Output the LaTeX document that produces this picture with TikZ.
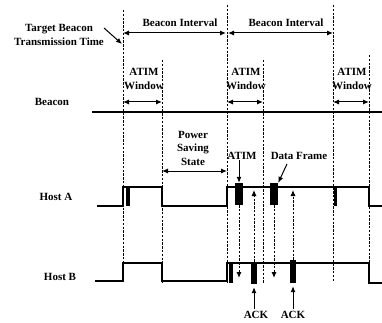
\documentclass[tikz,border=0pt]{standalone}
\usepackage{fontspec}
\setmainfont{Liberation Serif}
\usepackage{tikz}
\usetikzlibrary{arrows.meta}

\begin{document}
\begin{tikzpicture}[
    x=1pt, y=-1pt,
    lbl/.style={font=\bfseries\fontsize{11}{13.5}\selectfont, inner sep=0pt, align=center},
    tline/.style={line width=0.9pt, dash pattern=on 2.4pt off 1.4pt},
    sig/.style={line width=1.1pt},
    frm/.style={fill=black, draw=none, inner sep=0pt},
    arr/.style={-{Latex[length=6pt,width=5pt]}, line width=1pt},
    darr/.style={{Latex[length=6pt,width=5pt]}-{Latex[length=6pt,width=5pt]}, line width=1pt},
    dasharr/.style={arr, dash pattern=on 2.4pt off 1.4pt}
  ]
    \useasboundingbox (0,0) rectangle (382,323);

    % beacon and ATIM window boundaries
    \draw[tline] (123,10) -- (123,283);
    \draw[tline] (162,60) -- (162,283);
    \draw[tline] (227,5) -- (227,283);
    \draw[tline] (263,60) -- (263,283);
    \draw[tline] (333,5) -- (333,281);
    \draw[tline] (369,55) -- (369,281);

    \node[lbl] (tbtt) at (59,35) {Target Beacon\\Transmission Time};
    \coordinate (tbttfrom) at (104,28);
    \coordinate (tbttto) at (122,44);
    \draw[arr] (tbttfrom) -- (tbttto);

    \coordinate (bi0) at (123,33);
    \coordinate (bi1) at (227,33);
    \coordinate (bi2) at (333,33);
    \node[lbl] (int1) at (180,23) {Beacon Interval};
    \node[lbl] (int2) at (286,23) {Beacon Interval};
    \draw[darr] (bi0) -- ([xshift=-1pt]bi1);
    \draw[darr] ([xshift=1pt]bi1) -- (bi2);

    \node[lbl] (win1) at (144,79) {ATIM\\Window};
    \node[lbl] (win2) at (246,79) {ATIM\\Window};
    \node[lbl] (win3) at (352,79) {ATIM\\Window};
    \coordinate (w1a) at (123,102); \coordinate (w1b) at (162,102);
    \coordinate (w2a) at (227,102); \coordinate (w2b) at (263,102);
    \coordinate (w3a) at (333,102); \coordinate (w3b) at (369,102);
    \draw[darr] (w1a) -- (w1b);
    \draw[darr] (w2a) -- (w2b);
    \draw[darr] (w3a) -- (w3b);

    \node[lbl] (beacon) at (52,102) {Beacon};
    \draw[sig] (92,112) -- (382,112);

    \node[lbl] (pss) at (193,148) {Power\\Saving\\State};
    \coordinate (ps0) at (162,171); \coordinate (ps1) at (227,171);
    \draw[darr] (ps0) -- (ps1);

    % Host A
    \node[lbl] (hosta) at (56,197) {Host A};
    \draw[sig] (97,206) -- (123,206) -- (123,187) -- (162,187) -- (162,206)
      -- (227,206) -- (227,187) -- (369,187) -- (369,206) -- (382,206);
    \node[frm, minimum width=4pt, minimum height=19pt] (fa0) at (128,196.5) {};
    \node[frm, minimum width=8pt, minimum height=22pt] (atima) at (239,194) {};
    \node[frm, minimum width=8pt, minimum height=22pt] (dataa) at (274,194) {};
    \node[frm, minimum width=3pt, minimum height=19pt] (fa2) at (335.5,196.5) {};

    % Host B
    \node[lbl] (hostb) at (60,277) {Host B};
    \draw[sig] (95,281) -- (123,281) -- (123,263) -- (162,263) -- (162,281)
      -- (227,281) -- (227,263) -- (369,263) -- (369,283) -- (382,283);
    \node[frm, minimum width=4pt, minimum height=20pt] (fb1) at (231,273) {};
    \node[frm, minimum width=6pt, minimum height=22pt] (ackb1) at (254,273) {};
    \node[frm, minimum width=6pt, minimum height=23pt] (ackb2) at (293,271.5) {};

    % frame exchange
    \node[lbl] (atimlbl) at (242,156) {ATIM};
    \node[lbl] (datalbl) at (299,156) {Data Frame};
    \draw[arr] (atimlbl.south -| atima) -- (atima.north);
    \coordinate (datafrom) at (287,164);
    \draw[arr] (datafrom) -- (dataa.north east);

    \coordinate (atimb) at (239,278);
    \coordinate (datab) at (274,278);
    \coordinate (ackta1) at (254,190);
    \coordinate (ackta2) at (293,190);
    \draw[dasharr] (atima.south) -- (atimb);
    \draw[dasharr] (dataa.south) -- (datab);
    \draw[dasharr] (ackb1.north) -- (ackta1);
    \draw[dasharr] (ackb2.north) -- (ackta2);

    \node[lbl] (ack1) at (256,315) {ACK};
    \node[lbl] (ack2) at (293,315) {ACK};
    \draw[arr] ([yshift=2pt]ack1.north -| ackb1) -- ([yshift=-3pt]ackb1.south);
    \draw[arr] ([yshift=2pt]ack2.north -| ackb2) -- ([yshift=-3pt]ackb2.south);
  \end{tikzpicture}
\end{document}
